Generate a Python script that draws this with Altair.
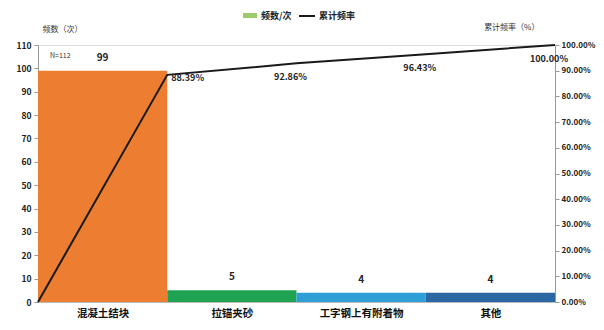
import altair as alt
import pandas as pd

categories = ["混凝土结块", "拉锚夹砂", "工字钢上有附着物", "其他"]
counts = [99, 5, 4, 4]
bar_colors = ["#ED7D31", "#1FA352", "#2E9FD6", "#2B68A3"]
left_ticks = list(range(0, 111, 10))
right_ticks = [i / 10 for i in range(0, 11)]

total = sum(counts)
bars_df = pd.DataFrame({
    "cat": categories,
    "count": counts,
    "x0": list(range(len(categories))),
    "x1": [i + 1 for i in range(len(categories))],
    "xm": [i + 0.5 for i in range(len(categories))],
})
cum = [0.0]
s = 0
for c in counts:
    s += c
    cum.append(s / total)
line_df = pd.DataFrame({
    "x": list(range(len(categories) + 1)),
    "cum": cum,
    "label": [""] + [f"{v*100:.2f}%" for v in cum[1:]],
    "idx": list(range(len(categories) + 1)),
})

FONT = "Noto Sans CJK SC"
W, H = 517, 257

label_expr = "[" + ",".join(f"'{c}'" for c in categories) + "][floor(datum.value)]"
xscale = alt.Scale(domain=[0, len(categories)], nice=False, zero=False)

x_axis = alt.Axis(values=[i + 0.5 for i in range(len(categories))], labelExpr=label_expr,
                  title=None, ticks=False, domain=True, domainColor="#bbbbbb",
                  labelFont=FONT, labelFontWeight="bold", labelFontSize=10.5,
                  labelColor="#111111", labelPadding=6, grid=False)

left_axis = alt.Axis(values=left_ticks, title="频数（次）", titleAngle=0,
                     titleAlign="left", titleX=4, titleY=-12, titleFont=FONT,
                     titleFontSize=8, titleFontWeight="normal", titleColor="#333333",
                     labelFont=FONT, labelFontSize=8.5, labelFontWeight="bold",
                     labelColor="#222222", domainColor="#999999", tickColor="#999999",
                     tickSize=4, grid=False, labelPadding=3, labelOverlap=False)

right_axis = alt.Axis(orient="right", values=right_ticks, format=".2%",
                      title="累计频率（%）", titleAngle=0, titleAlign="right",
                      titleX=-16, titleY=-14, titleFont=FONT, titleFontSize=8,
                      titleFontWeight="normal", titleColor="#333333",
                      labelFont=FONT, labelFontSize=8, labelFontWeight="bold",
                      labelColor="#222222", domainColor="#999999", tickColor="#999999",
                      tickSize=4, grid=False, labelPadding=2, labelOverlap=False)

yleft = alt.Scale(domain=[0, 110], nice=False)
yright = alt.Scale(domain=[0, 1], nice=False)

bars = alt.Chart(bars_df).mark_rect().encode(
    x=alt.X("x0:Q", scale=xscale, axis=x_axis),
    x2="x1:Q",
    y=alt.Y("count:Q", scale=yleft, axis=left_axis),
    y2=alt.datum(0),
    color=alt.Color("cat:N", scale=alt.Scale(domain=categories, range=bar_colors), legend=None),
)

bar_text = alt.Chart(bars_df).mark_text(font=FONT, fontSize=10, fontWeight="bold",
                                        baseline="bottom", dy=-8, color="#222222").encode(
    x=alt.X("xm:Q", scale=xscale, axis=x_axis),
    y=alt.Y("count:Q", scale=yleft, axis=left_axis),
    text="count:Q",
)

n_text = alt.Chart(alt.Data(values=[{}])).mark_text(
    font=FONT, fontSize=7, align="left", baseline="middle", color="#333333", text=f"N={total}"
).encode(x=alt.value(12), y=alt.value(11))

left_layer = alt.layer(bars, bar_text, n_text)

line = alt.Chart(line_df).mark_line(color="#1a1a1a", strokeWidth=2).encode(
    x=alt.X("x:Q", scale=xscale, axis=x_axis),
    y=alt.Y("cum:Q", scale=yright, axis=right_axis),
)

first_lab = alt.Chart(line_df).transform_filter("datum.idx == 1").mark_text(
    font=FONT, fontSize=9, fontWeight="bold", align="left", dx=4, dy=3, color="#222222"
).encode(x=alt.X("x:Q", scale=xscale, axis=x_axis), y=alt.Y("cum:Q", scale=yright, axis=right_axis),
         text="label:N")

other_lab = alt.Chart(line_df).transform_filter("datum.idx > 1").mark_text(
    font=FONT, fontSize=9, fontWeight="bold", align="center", dx=-6, dy=14, color="#222222"
).encode(x=alt.X("x:Q", scale=xscale, axis=x_axis), y=alt.Y("cum:Q", scale=yright, axis=right_axis),
         text="label:N")

one = alt.Data(values=[{}])
leg_sw = alt.Chart(one).mark_rect(color="#9BCB6A").encode(
    x=alt.value(205), x2=alt.value(219), y=alt.value(-32), y2=alt.value(-27))
leg_t1 = alt.Chart(one).mark_text(font=FONT, fontSize=9, fontWeight="bold", align="left",
                                  baseline="middle", text="频数/次", color="#222222").encode(
    x=alt.value(223), y=alt.value(-29))
leg_ln = alt.Chart(one).mark_rule(color="#1a1a1a", strokeWidth=2).encode(
    x=alt.value(261), x2=alt.value(277), y=alt.value(-29))
leg_t2 = alt.Chart(one).mark_text(font=FONT, fontSize=9, fontWeight="bold", align="left",
                                  baseline="middle", text="累计频率", color="#222222").encode(
    x=alt.value(281), y=alt.value(-29))

right_layer = alt.layer(line, first_lab, other_lab, leg_sw, leg_t1, leg_ln, leg_t2)

chart = alt.layer(left_layer, right_layer).resolve_scale(y="independent").properties(
    width=W, height=H,
    autosize=alt.AutoSizeParams(type="none"),
    padding={"left": 30, "top": 37, "right": 41, "bottom": 20},
).configure_view(stroke=None).configure(background="white")

chart.save("out.html", embed_options={"renderer": "svg", "actions": False})
